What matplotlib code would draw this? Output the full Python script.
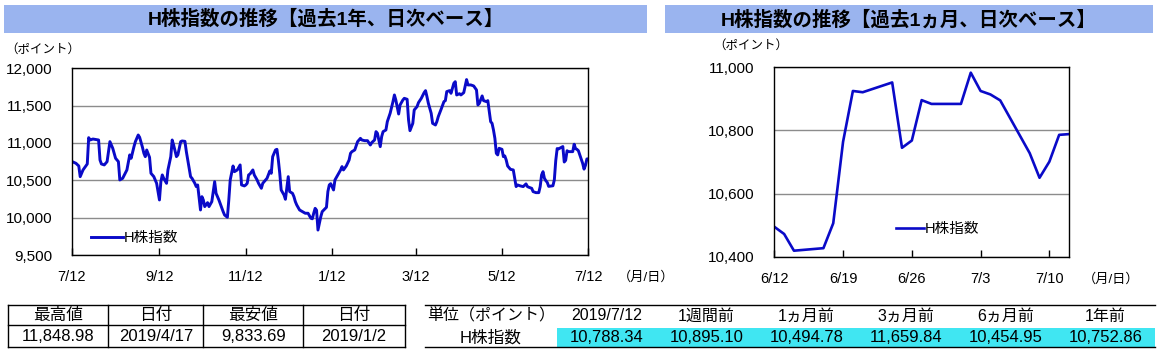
import matplotlib
matplotlib.use('Agg')
import matplotlib.pyplot as plt
from matplotlib.patches import Rectangle
import pandas as pd

plt.rcParams['font.family'] = ['Liberation Sans', 'Noto Sans CJK JP']

# 過去1年 (2018/7/12 からの経過日数, ポイント)
year_start = '2018-07-12'
year_days = [0, 3, 5, 6, 8, 11, 12, 13, 15, 19, 20, 21, 23, 25, 27, 29, 31, 33, 34, 36,
             39, 41, 42, 44, 45, 47, 48, 50, 51, 52, 53, 55, 56, 58, 60, 62, 63, 64, 65, 67,
             68, 70, 71, 72, 74, 75, 77, 78, 80, 81, 82, 84, 85, 87, 88, 89, 91, 92, 93, 94,
             96, 97, 99, 100, 101, 102, 104, 105, 107, 108, 110, 111, 112, 114, 115, 117, 119, 120, 122, 123,
             124, 125, 126, 128, 129, 131, 132, 134, 135, 137, 138, 140, 141, 142, 144, 145, 146, 147, 148, 150,
             151, 152, 153, 154, 156, 157, 158, 159, 161, 163, 165, 167, 169, 170, 171, 172, 173, 174, 176, 177,
             180, 181, 182, 183, 185, 186, 188, 190, 191, 192, 194, 196, 197, 198, 200, 202, 204, 205, 207, 209,
             211, 212, 214, 215, 216, 218, 219, 220, 222, 223, 225, 227, 228, 229, 231, 232, 234, 235, 237, 238,
             239, 241, 242, 244, 245, 247, 249, 250, 251, 252, 254, 255, 257, 258, 259, 261, 263, 264, 265, 267,
             268, 270, 271, 272, 274, 275, 277, 279, 280, 282, 284, 286, 287, 288, 290, 291, 293, 294, 296, 297,
             298, 299, 300, 301, 302, 304, 305, 306, 307, 308, 310, 312, 314, 315, 317, 319, 321, 322, 323, 325,
             326, 328, 330, 331, 332, 333, 334, 335, 336, 337, 340, 341, 342, 343, 344, 347, 348, 349, 350, 351,
             354, 355, 356, 357, 358, 361, 362, 363, 364, 365]
year_vals = [10753, 10728, 10692, 10549, 10639, 10719, 11071, 11040, 11053, 11040, 10772, 10719, 10706, 10750, 11018, 10929, 10795, 10750, 10505, 10527,
             10639, 10840, 10795, 10951, 11018, 11107, 11076, 10942, 10862, 10817, 10906, 10808, 10594, 10550, 10460, 10237, 10482, 10572, 10527, 10460,
             10639, 10817, 11040, 10973, 10817, 10840, 11018, 11027, 11022, 10884, 10772, 10549, 10527, 10460, 10416, 10438, 10103, 10281, 10237, 10148,
             10201, 10148, 10215, 10349, 10482, 10326, 10237, 10184, 10081, 10036, 10005, 10237, 10505, 10692, 10616, 10639, 10706, 10438, 10425, 10438,
             10460, 10572, 10585, 10639, 10572, 10505, 10460, 10393, 10460, 10505, 10527, 10626, 10594, 10817, 10907, 10915, 10772, 10594, 10371, 10304,
             10246, 10393, 10549, 10349, 10326, 10282, 10215, 10170, 10103, 10081, 10059, 10059, 9992, 9985, 10060, 10125, 10100, 9834, 10014, 10081,
             10139, 10349, 10438, 10455, 10371, 10505, 10572, 10639, 10684, 10639, 10692, 10772, 10862, 10884, 10907, 11018, 11062, 11040, 11031, 11031,
             10973, 11005, 11040, 11152, 11130, 10951, 11085, 11152, 11174, 11286, 11398, 11554, 11643, 11576, 11388, 11509, 11576, 11598, 11585, 11308,
             11165, 11263, 11442, 11487, 11540, 11598, 11674, 11701, 11620, 11531, 11397, 11263, 11241, 11286, 11353, 11451, 11554, 11567, 11688, 11701,
             11665, 11799, 11821, 11643, 11660, 11643, 11674, 11849, 11777, 11777, 11764, 11710, 11509, 11531, 11630, 11567, 11554, 11567, 11286, 11263,
             11174, 11062, 10862, 10840, 10929, 10915, 10817, 10826, 10772, 10692, 10647, 10639, 10416, 10438, 10425, 10416, 10452, 10416, 10407, 10393,
             10349, 10335, 10335, 10416, 10572, 10616, 10527, 10495, 10472, 10419, 10427, 10506, 10764, 10925, 10921, 10952, 10745, 10768, 10896, 10884,
             10884, 10983, 10925, 10914, 10896, 10728, 10650, 10701, 10786, 10788]

# 過去1ヵ月
month_dates = ['2019-06-12', '2019-06-13', '2019-06-14', '2019-06-17', '2019-06-18', '2019-06-19',
               '2019-06-20', '2019-06-21', '2019-06-24', '2019-06-25', '2019-06-26', '2019-06-27',
               '2019-06-28', '2019-07-01', '2019-07-02', '2019-07-03', '2019-07-04', '2019-07-05',
               '2019-07-08', '2019-07-09', '2019-07-10', '2019-07-11', '2019-07-12']
month_vals = [10494.78, 10472, 10419, 10427, 10506, 10764,
              10925, 10921, 10952, 10745, 10768, 10896,
              10884, 10884, 10983, 10925, 10914, 10895.10,
              10728, 10650, 10701, 10786, 10788.34]

year_ticks = ['2018-07-12', '2018-09-12', '2018-11-12', '2019-01-12', '2019-03-12', '2019-05-12', '2019-07-12']
year_tick_labels = ['7/12', '9/12', '11/12', '1/12', '3/12', '5/12', '7/12']
month_ticks = ['2019-06-12', '2019-06-19', '2019-06-26', '2019-07-03', '2019-07-10']
month_tick_labels = ['6/12', '6/19', '6/26', '7/3', '7/10']

summary_head = ['最高値', '日付', '最安値', '日付']
summary_vals = ['11,848.98', '2019/4/17', '9,833.69', '2019/1/2']
compare_head = ['単位（ポイント）', '2019/7/12', '1週間前', '1ヵ月前', '3ヵ月前', '6ヵ月前', '1年前']
compare_vals = ['H株指数', '10,788.34', '10,895.10', '10,494.78', '11,659.84', '10,454.95', '10,752.86']

BLUE = '#0a0ac8'
BAR = '#9ab4ef'
CYAN = '#40e6f2'
W, H = 1160, 352


def box(x0, y0, x1, y1):
    return [x0 / W, 1 - y1 / H, (x1 - x0) / W, (y1 - y0) / H]


fig = plt.figure(figsize=(W / 100, H / 100), dpi=100)
ax1 = fig.add_axes(box(71.7, 68.3, 588.3, 255))
ax2 = fig.add_axes(box(774.3, 67.3, 1069, 256.7))

d1 = pd.Timestamp(year_start) + pd.to_timedelta(year_days, unit='D')
ax1.plot(d1, year_vals, color=BLUE, lw=2.1, label='H株指数')
ax1.set_xlim(pd.Timestamp('2018-07-12'), pd.Timestamp('2019-07-12'))
ax1.set_ylim(9500, 12000)
ax1.set_yticks(range(9500, 12001, 500))
ax1.set_yticklabels([f'{v:,}' for v in range(9500, 12001, 500)])
ax1.set_xticks(pd.to_datetime(year_ticks))
ax1.set_xticklabels(year_tick_labels)

d2 = pd.to_datetime(month_dates)
ax2.plot(d2, month_vals, color=BLUE, lw=1.9, label='H株指数')
ax2.set_xlim(pd.Timestamp('2019-06-12'), pd.Timestamp('2019-07-12'))
ax2.set_ylim(10400, 11000)
ax2.set_yticks(range(10400, 11001, 200))
ax2.set_yticklabels([f'{v:,}' for v in range(10400, 11001, 200)])
ax2.set_xticks(pd.to_datetime(month_ticks))
ax2.set_xticklabels(month_tick_labels)

for ax in (ax1, ax2):
    ax.grid(axis='y', color='#8c8c8c', lw=1)
    ax.set_axisbelow(True)
    ax.tick_params(axis='x', direction='in', length=5, width=1, pad=11, labelsize=10.5)
    ax.tick_params(axis='y', length=0, pad=14, labelsize=11)
    for s in ax.spines.values():
        s.set_linewidth(1)
        s.set_color('black')

ax1.legend(loc='center left', bbox_to_anchor=(0.038, 0.093), frameon=False, fontsize=10.5,
           handlelength=2.2, handletextpad=0.05, borderpad=0, borderaxespad=0)
ax2.legend(loc='center left', bbox_to_anchor=(0.413, 0.146), frameon=False, fontsize=10.5,
           handlelength=1.9, handletextpad=0.05, borderpad=0, borderaxespad=0)

# overlay in pixel coords for titles, units and tables
ov = fig.add_axes([0, 0, 1, 1])
ov.set_xlim(0, W)
ov.set_ylim(H, 0)
ov.axis('off')

ov.add_patch(Rectangle((4, 5), 643, 28, color=BAR, lw=0))
ov.add_patch(Rectangle((665, 5), 488, 28, color=BAR, lw=0))
ov.text(325.5, 19.5, 'H株指数の推移【過去1年、日次ベース】', ha='center', va='center', fontsize=14, fontweight='bold')
ov.text(909, 19.5, 'H株指数の推移【過去1ヵ月、日次ベース】', ha='center', va='center', fontsize=14, fontweight='bold')

ov.text(5, 50, '（ポイント）', ha='left', va='center', fontsize=9)
ov.text(713, 46, '（ポイント）', ha='left', va='center', fontsize=9)
ov.text(618, 277, '（月/日）', ha='left', va='center', fontsize=9.5)
ov.text(1083, 279, '（月/日）', ha='left', va='center', fontsize=9.5)

# left summary table
tx = [8.3, 108.3, 203.3, 303.3, 405]
for y in (305, 325, 347):
    ov.plot([tx[0], tx[-1]], [y, y], color='black', lw=1)
for x in tx:
    ov.plot([x, x], [305, 347], color='black', lw=1)
for i in range(4):
    cx = (tx[i] + tx[i + 1]) / 2
    ov.text(cx, 315.5, summary_head[i], ha='center', va='center', fontsize=12)
    ov.text(cx, 336.5, summary_vals[i], ha='center', va='center', fontsize=12)

# right comparison table
cols = [425, 557] + [557 + 99.7 * k for k in range(1, 7)]
ov.add_patch(Rectangle((557, 328), 1155 - 557, 19, color=CYAN, lw=0))
ov.plot([425, 1155], [304.5, 304.5], color='black', lw=1)
ov.plot([425, 1155], [347, 347], color='black', lw=1)
for i in range(7):
    cx = (cols[i] + cols[i + 1]) / 2
    ov.text(cx, 316, compare_head[i], ha='center', va='center', fontsize=11.5)
    ov.text(cx, 337.5, compare_vals[i], ha='center', va='center', fontsize=12)

fig.savefig('out.png', dpi=100)
